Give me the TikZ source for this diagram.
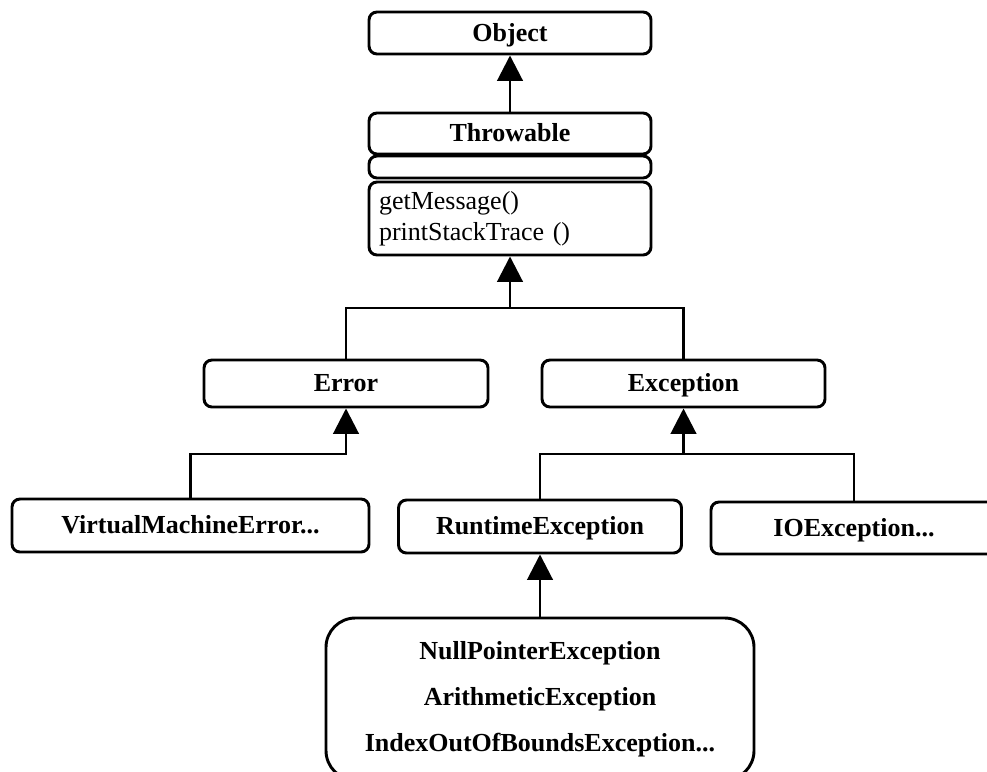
\documentclass[tikz,border=0pt]{standalone}
\usepackage{fontspec}
\setmainfont{Liberation Serif}
\usetikzlibrary{arrows.meta}

\begin{document}
\begin{tikzpicture}[x=0.75pt,y=-0.75pt,
  box/.style={draw,line width=2.2pt,rounded corners=6pt,inner sep=0pt,
    font=\fontsize{19.5}{23}\selectfont\bfseries},
  cls/.style={box,text height=13pt,text depth=0.5pt},
  isa/.style={line width=2.2pt,-{Triangle[width=19pt,length=19pt]}}]
\useasboundingbox (0,0) rectangle (987,771);
\clip (0,0) rectangle (987,771);

 \node[cls,minimum width=211.5pt,minimum height=31.5pt] (obj) at (510,33) {Object};
 \node[cls,minimum width=211.5pt,minimum height=30.75pt] (thr) at (510,133.5) {Throwable};
 \node[box,minimum width=211.5pt,minimum height=16.5pt] (attr) at (510,167) {};
 \node[box,minimum width=211.5pt,minimum height=54.75pt,text width=196.5pt,align=left,
   font=\fontsize{19.5}{23}\selectfont] (meth) at (510,218.5) {getMessage()\\printStackTrace ()};

 \node[cls,minimum width=213pt,minimum height=35.25pt] (err) at (346,383.5) {Error};
 \node[cls,minimum width=212.25pt,minimum height=35.25pt] (exc) at (683.5,383.5) {Exception};

 \node[cls,minimum width=267.75pt,minimum height=39.75pt] (vme) at (190.5,525.5) {VirtualMachineError...};
 \node[cls,minimum width=212.25pt,minimum height=39.75pt] (rte) at (540,526.5) {RuntimeException};
 \node[cls,minimum width=214.5pt,minimum height=39pt] (ioe) at (854,528) {IOException...};

 \node[box,rounded corners=22pt,minimum width=321pt,minimum height=121.5pt,align=center,
   font=\fontsize{19.5}{34.5}\selectfont\bfseries] (rtsub) at (540,699)
   {NullPointerException\\ArithmeticException\\IndexOutOfBoundsException...};

 \coordinate (j1) at (510,308);
 \coordinate (j2) at (346,454);
 \coordinate (j3) at (683.5,454);

 \draw[isa] (thr.north)--(obj.south);
 \draw[isa] (err.north) |- (j1)--(meth.south);
 \draw[line width=2.2pt] (exc.north) |- (j1);
 \draw[isa] (vme.north) |- (j2)--(err.south);
 \draw[isa] (rte.north) |- (j3)--(exc.south);
 \draw[line width=2.2pt] (ioe.north) |- (j3);
 \draw[isa] (rtsub.north)--(rte.south);
\end{tikzpicture}
\end{document}
